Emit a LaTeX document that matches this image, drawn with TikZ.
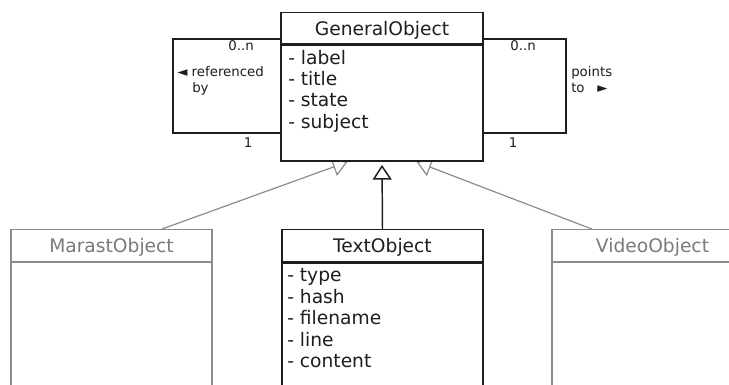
\documentclass[tikz,border=0pt]{standalone}
\usepackage{fontspec}
\setmainfont{DejaVu Sans}
\usetikzlibrary{arrows.meta,calc}
\definecolor{ink}{HTML}{1E1E1E}
\definecolor{faded}{HTML}{8C8C8C}
\definecolor{fadedtext}{HTML}{7A7A7A}
\pgfdeclarelayer{wires}
\pgfsetlayers{wires,main}
\tikzset{
  classhead/.style={draw=ink, line width=1.1pt, fill=white, text=ink,
    minimum width=151.5pt, minimum height=23.25pt, inner sep=0pt,
    text height=10.2pt, text depth=0pt, font=\fontsize{14}{16}\selectfont},
  classbody/.style={draw=ink, line width=1.1pt, fill=white,
    minimum width=151.5pt, inner sep=0pt},
  ghost/.style={draw=faded, text=fadedtext, line width=0.9pt},
  attr/.style={anchor=base west, inner sep=0pt, text=ink,
    font=\fontsize{14}{16}\selectfont},
  mult/.style={anchor=base, inner sep=0pt, text=ink,
    font=\fontsize{10}{12}\selectfont},
  rolename/.style={anchor=base west, inner sep=0pt, text=ink,
    font=\fontsize{10}{12}\selectfont},
  assoc/.style={draw=ink, line width=1.1pt},
  realizes/.style={draw=ink, line width=1.1pt,
    -{Triangle[open, length=11pt, width=14.25pt]}},
  fadedlink/.style={draw=faded, line width=0.9pt,
    -{Triangle[open, length=11pt, width=14.25pt]}},
}
\begin{document}
\begin{tikzpicture}[x=0.75pt, y=-0.75pt]
\useasboundingbox (0,0) rectangle (729,385);
\clip (0,0) rectangle (729,385);

% GeneralObject
\node[classhead, anchor=north] (gen) at (382,12) {GeneralObject};
\node[classbody, anchor=north, minimum height=87pt] (genbody) at (gen.south) {};
\foreach \t [count=\i from 0] in {label,title,state,subject}
  \node[attr] (genattr\i) at (288,{65+21*\i}) {- \t};

% TextObject
\node[classhead, anchor=north, minimum width=150.75pt, minimum height=24pt] (txt) at (382.5,229) {TextObject};
\node[classbody, anchor=north, minimum width=150.75pt, minimum height=105pt] (txtbody) at (txt.south) {};
\foreach \t [count=\i from 0] in {type,hash,filename,line,content}
  \node[attr] (txtattr\i) at (287,{281.5+21.6*\i}) {- \t};

% MarastObject and VideoObject
\node[classhead, ghost, anchor=north, minimum width=150.75pt, minimum height=24pt] (marast) at (111.5,229) {MarastObject};
\node[classbody, ghost, anchor=north, minimum width=150.75pt, minimum height=105pt] (marastbody) at (marast.south) {};
\node[classhead, ghost, anchor=north, minimum width=150.75pt, minimum height=24pt] (video) at (652.5,229) {VideoObject};
\node[classbody, ghost, anchor=north, minimum width=150.75pt, minimum height=105pt] (videobody) at (video.south) {};

% self associations
\coordinate (refTL) at (173,39);
\coordinate (refBL) at (173,133);
\coordinate (ptsTR) at (566,39);
\coordinate (ptsBR) at (566,133);

\begin{pgfonlayer}{wires}
  \draw[assoc] (refTL -| gen.west) -- (refTL) -- (refBL) -- (refBL -| genbody.west);
  \draw[assoc] (ptsTR -| gen.east) -- (ptsTR) -- (ptsBR) -- (ptsBR -| genbody.east);
  \draw[realizes, shorten >=2.25pt] (txt.north) -- (genbody.south);
  \draw[fadedlink] ($(marast.north west)!0.75!(marast.north east)$)
    -- ($(genbody.south west)!0.33!(genbody.south east)$);
  \draw[fadedlink] ($(video.north west)!0.2!(video.north east)$)
    -- ($(genbody.south west)!0.67!(genbody.south east)$);
\end{pgfonlayer}

% multiplicities and role names
\node[mult] (m1) at (241,51) {0..n};
\node[mult] (m2) at (248,147) {1};
\node[mult] (m3) at (523,51) {0..n};
\node[mult] (m4) at (513,147) {1};
\node[rolename] (ref1) at (177,77) {◄ referenced};
\node[rolename] (ref2) at (192,93) {by};
\node[rolename] (pts1) at (571,77) {points};
\node[rolename] (pts2) at (571,93) {to};
\node[rolename] (pts3) at (597,93) {►};
\end{tikzpicture}
\end{document}
